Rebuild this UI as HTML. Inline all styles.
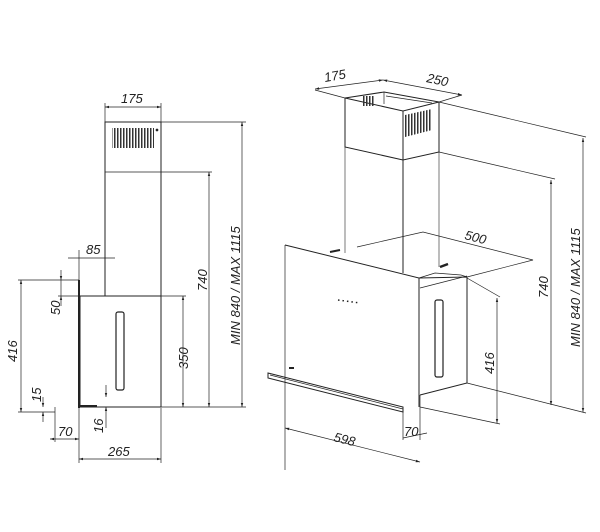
<!DOCTYPE html>
<html><head><style>html,body{margin:0;padding:0;background:#fff}svg{display:block}text{font-family:"Liberation Sans",sans-serif;font-style:italic;font-size:13px;fill:#222}</style></head>
<body>
<svg width="600" height="532" viewBox="0 0 600 532" xmlns="http://www.w3.org/2000/svg">
<defs>
<marker id="a" viewBox="0 0 10 10" refX="10" refY="5" markerWidth="6" markerHeight="6" orient="auto-start-reverse"><path d="M0,2 L10,5 L0,8z" fill="#222"/></marker>
<pattern id="g" width="3" height="4" patternUnits="userSpaceOnUse"><rect width="1.5" height="4" fill="#333"/></pattern>
</defs>
<g stroke="#222" fill="none" stroke-width="0.7">
<!-- LEFT VIEW -->
<rect x="105" y="122" width="56" height="174" stroke-width="1"/>
<line x1="105" y1="172" x2="161" y2="172"/>
<rect x="112" y="128" width="42" height="20" fill="url(#g)" stroke="none"/>
<circle cx="157" cy="130" r="1" fill="#222"/>
<rect x="80" y="296" width="81" height="111" stroke-width="1"/>
<line x1="79" y1="280" x2="79" y2="408" stroke-width="2"/>
<rect x="116" y="312" width="8" height="78" rx="2" stroke-width="1.2"/>
<line x1="80" y1="406" x2="97" y2="406" stroke-width="2"/>
<line x1="161" y1="122" x2="246" y2="122"/><line x1="161" y1="172" x2="212" y2="172"/>
<line x1="105" y1="103" x2="105" y2="122"/><line x1="161" y1="103" x2="161" y2="122"/>
<line x1="161" y1="296" x2="186" y2="296"/><line x1="161" y1="407" x2="246" y2="407"/>
<line x1="18" y1="280" x2="79" y2="280"/><line x1="18" y1="412" x2="55" y2="412"/>
<line x1="58" y1="296" x2="80" y2="296"/>
<line x1="79" y1="408" x2="79" y2="463"/><line x1="161" y1="408" x2="161" y2="463"/>
<line x1="55" y1="407" x2="55" y2="442"/>
<line x1="105" y1="107" x2="161" y2="107" marker-start="url(#a)" marker-end="url(#a)"/>
<line x1="209" y1="172" x2="209" y2="407" marker-start="url(#a)" marker-end="url(#a)"/>
<line x1="242" y1="122" x2="242" y2="407" marker-start="url(#a)" marker-end="url(#a)"/>
<line x1="183" y1="296" x2="183" y2="407" marker-start="url(#a)" marker-end="url(#a)"/>
<line x1="21" y1="280" x2="21" y2="412" marker-start="url(#a)" marker-end="url(#a)"/>
<line x1="61" y1="270" x2="61" y2="280" marker-end="url(#a)"/><line x1="61" y1="306" x2="61" y2="296" marker-end="url(#a)"/><line x1="61" y1="280" x2="61" y2="296"/>
<line x1="43" y1="397" x2="43" y2="407" marker-end="url(#a)"/><line x1="43" y1="422" x2="43" y2="412" marker-end="url(#a)"/>
<line x1="68" y1="258" x2="115" y2="258"/>
<line x1="79" y1="250" x2="79" y2="280"/><line x1="105" y1="250" x2="105" y2="296"/>
<line x1="50" y1="439" x2="79" y2="439" marker-start="url(#a)" marker-end="url(#a)"/>
<line x1="106" y1="385" x2="106" y2="397" marker-end="url(#a)"/><line x1="106" y1="428" x2="106" y2="407" marker-end="url(#a)"/>
<line x1="79" y1="459" x2="161" y2="459" marker-start="url(#a)" marker-end="url(#a)"/>

<!-- RIGHT VIEW -->
<path d="M345,98 L384,92 L439,102 L403,111 Z" stroke-width="1"/>
<path d="M345,98 L345,147 L403,160 L439,152 L439,102" stroke-width="1"/>
<line x1="403" y1="111" x2="403" y2="273" stroke-width="1"/>
<line x1="345" y1="147" x2="345" y2="253" stroke-width="0.6"/>
<line x1="439" y1="152" x2="439" y2="267" stroke-width="0.6"/>
<line x1="384" y1="92" x2="384" y2="104"/><line x1="386" y1="96" x2="432" y2="103"/>
<path d="M405,115 L432,109 L432,130 L405,137 Z" fill="url(#g)" stroke="none"/>
<rect x="362" y="96" width="12" height="10" fill="url(#g)" stroke="none"/>
<path d="M285,245 L419,278 L419,407" stroke-width="1"/>
<line x1="285" y1="245" x2="285" y2="470"/>
<path d="M268,373 L403,407 L403,412 L268,378 Z" stroke-width="1"/>
<line x1="270" y1="375" x2="403" y2="409"/>
<line x1="289" y1="368" x2="294" y2="368" stroke-width="2"/>
<line x1="338" y1="300" x2="360" y2="303" stroke-dasharray="1.5,3" stroke-width="1.5"/>
<line x1="330" y1="252" x2="340" y2="250" stroke-width="2"/>
<line x1="440" y1="267" x2="448" y2="264" stroke-width="2.5"/>
<path d="M419,278 L467,277 L467,383 L420,395" stroke-width="1"/>
<path d="M419,278 L435,273 L461,275 L467,277"/>
<line x1="420" y1="288" x2="467" y2="276"/>
<rect x="435" y="300" width="8" height="77" rx="2" stroke-width="1.2"/>
<path d="M357,247 L423,232 L533,260 L467,277"/>
<line x1="439" y1="102" x2="586" y2="137"/>
<line x1="439" y1="152" x2="555" y2="179"/>
<line x1="467" y1="278" x2="500" y2="297"/>
<line x1="467" y1="383" x2="586" y2="413"/>
<line x1="420" y1="407" x2="500" y2="424"/>
<line x1="420" y1="395" x2="420" y2="440"/>
<line x1="403" y1="412" x2="403" y2="440"/>
<line x1="315" y1="90" x2="345" y2="98"/><line x1="462" y1="95" x2="439" y2="102"/>
<line x1="551" y1="180" x2="551" y2="405" marker-start="url(#a)" marker-end="url(#a)"/>
<line x1="583" y1="138" x2="583" y2="412" marker-start="url(#a)" marker-end="url(#a)"/>
<line x1="497" y1="298" x2="497" y2="423" marker-start="url(#a)" marker-end="url(#a)"/>
<line x1="285" y1="428" x2="420" y2="462" marker-start="url(#a)" marker-end="url(#a)"/>
<line x1="403" y1="438" x2="427" y2="433"/>
<line x1="315" y1="89" x2="383" y2="80" marker-start="url(#a)" marker-end="url(#a)"/>
<line x1="383" y1="80" x2="462" y2="95" marker-start="url(#a)" marker-end="url(#a)"/>
</g>
<g>
<text x="121" y="103">175</text>
<text x="86" y="254">85</text>
<text transform="translate(60,315) rotate(-90)">50</text>
<text transform="translate(17,362) rotate(-90)">416</text>
<text transform="translate(41,402) rotate(-90)">15</text>
<text x="58" y="436">70</text>
<text transform="translate(103,433) rotate(-90)">16</text>
<text x="108" y="456">265</text>
<text transform="translate(188,369) rotate(-90)">350</text>
<text transform="translate(207,291) rotate(-90)">740</text>
<text transform="translate(240,345) rotate(-90)">MIN 840 / MAX 1115</text>
<text transform="translate(325,82) rotate(-10)">175</text>
<text transform="translate(426,82) rotate(12)">250</text>
<text transform="translate(464,239) rotate(14)">500</text>
<text transform="translate(333,441) rotate(14)">598</text>
<text x="404" y="436">70</text>
<text transform="translate(494,374) rotate(-90)">416</text>
<text transform="translate(548,298) rotate(-90)">740</text>
<text transform="translate(580,347) rotate(-90)">MIN 840 / MAX 1115</text>
</g>
</svg>
</body></html>
